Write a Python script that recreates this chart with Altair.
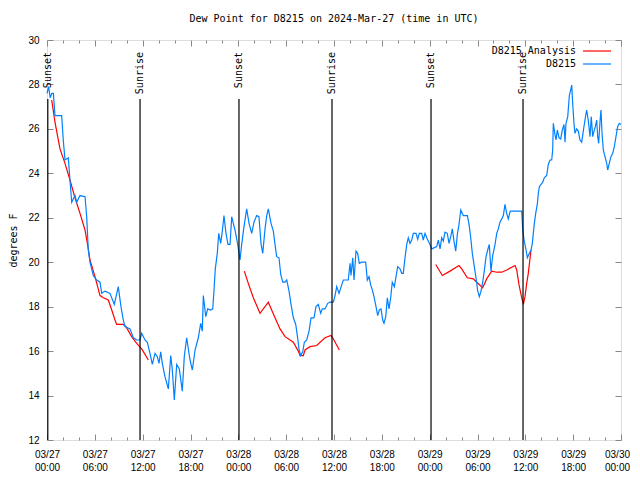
import altair as alt
import pandas as pd

# ---------------- data ----------------
# D8215 observations: hours after 2024-03-27 00:00 UTC, dew point (F)
d8215_hours = [
    0.00, 0.20, 0.40, 0.60, 0.80, 1.00, 1.84, 2.04, 2.26, 2.67,
    2.88, 3.10, 3.51, 3.73, 4.14, 4.77, 4.98, 5.18, 5.39, 5.81,
    6.23, 6.65, 6.86, 7.28, 7.90, 8.44, 8.66, 8.94, 9.28, 9.57,
    9.78, 10.41, 10.83, 11.25, 11.67, 11.88, 12.29, 12.58, 12.92, 13.21,
    13.55, 13.84, 14.05, 14.26, 14.46, 14.80, 15.22, 15.52, 15.72, 15.97,
    16.27, 16.60, 16.97, 17.22, 17.52, 17.94, 18.23, 18.57, 18.98, 19.28,
    19.48, 19.61, 19.91, 20.16, 20.53, 20.79, 20.95, 21.11, 21.36, 21.54,
    21.79, 21.99, 22.20, 22.45, 22.70, 22.96, 23.17, 23.37, 23.58, 23.92,
    24.21, 24.42, 24.71, 25.05, 25.34, 25.68, 25.96, 26.30, 26.59, 26.84,
    27.06, 27.35, 27.56, 27.76, 28.10, 28.39, 28.60, 28.81, 29.10, 29.32,
    29.57, 29.86, 30.07, 30.36, 30.61, 30.90, 31.20, 31.40, 31.61, 31.82,
    32.08, 32.28, 32.58, 32.87, 33.12, 33.49, 33.74, 34.03, 34.33, 34.53,
    34.87, 35.21, 35.50, 35.91, 36.13, 36.34, 36.63, 36.97, 37.17, 37.79,
    38.01, 38.13, 38.35, 38.51, 38.76, 38.97, 39.17, 39.47, 39.97, 40.18,
    40.39, 40.60, 40.85, 41.05, 41.27, 41.48, 41.68, 41.90, 42.11, 42.27,
    42.49, 42.69, 42.90, 43.11, 43.31, 43.57, 43.78, 43.99, 44.28, 44.49,
    44.69, 44.91, 45.12, 45.32, 45.53, 45.75, 45.95, 46.29, 46.50, 46.70,
    47.00, 47.20, 47.42, 47.70, 48.04, 48.26, 48.88, 49.09, 49.30, 49.51,
    49.71, 49.92, 50.21, 50.43, 50.64, 50.84, 51.05, 51.27, 51.47, 51.68,
    51.90, 52.22, 52.73, 52.94, 53.15, 53.35, 53.60, 53.81, 54.03, 54.23,
    54.44, 54.65, 54.85, 55.07, 55.28, 55.48, 55.69, 55.91, 56.20, 56.41,
    56.61, 56.82, 57.04, 57.24, 57.45, 57.66, 57.86, 58.11, 59.55, 59.67,
    59.84, 60.09, 60.25, 60.50, 60.71, 60.88, 61.00, 61.13, 61.30, 61.50,
    61.63, 61.76, 61.97, 62.18, 62.38, 62.68, 62.88, 63.10, 63.31, 63.43,
    63.51, 63.69, 63.85, 64.01, 64.23, 64.44, 64.64, 64.85, 64.98, 65.10,
    65.32, 65.52, 65.69, 65.82, 65.94, 66.11, 66.23, 66.44, 66.64, 66.86,
    67.07, 67.27, 67.48, 67.69, 67.89, 68.11, 68.27, 68.45, 68.61, 68.78,
    68.95, 69.08, 69.20, 69.37, 69.49, 69.62, 69.78, 69.99, 70.21, 70.33,
    70.53, 70.74, 70.96, 71.16, 71.37, 71.58, 71.78, 72.00,
]
d8215_dew = [
    27.6, 27.9, 27.4, 27.6, 27.6, 26.6, 26.6, 25.5, 24.6, 24.7,
    23.7, 22.7, 23.0, 22.7, 23.0, 22.95, 22.05, 20.55, 20.0, 19.4,
    19.2, 19.1, 18.6, 18.7, 18.6, 18.1, 18.45, 18.9, 18.0, 17.4,
    17.1, 17.0, 16.6, 16.5, 16.5, 16.8, 16.5, 16.4, 15.9, 15.4,
    15.9, 15.75, 15.45, 15.97, 15.45, 14.85, 14.3, 15.8, 15.15, 13.8,
    15.4, 15.2, 14.2, 15.75, 16.6, 15.6, 15.15, 16.05, 16.6, 17.25,
    16.9, 18.5, 17.55, 17.9, 17.85, 17.9, 18.75, 19.7, 20.4, 21.3,
    20.85, 21.4, 22.1, 21.3, 20.8, 20.8, 22.05, 21.75, 21.45, 20.8,
    20.1, 20.8, 21.6, 22.4, 21.75, 21.3, 21.8, 22.1, 22.05, 20.85,
    20.4, 21.5, 22.1, 22.4, 21.75, 21.4, 20.8, 20.25, 20.2, 19.45,
    19.1, 19.1, 19.2, 18.7, 18.1, 17.5, 17.2, 16.7, 16.1, 15.8,
    15.97, 16.4, 16.5, 16.9, 17.5, 17.5, 18.0, 18.1, 17.7, 17.9,
    17.9, 18.15, 18.2, 18.2, 18.5, 18.9, 18.6, 18.98, 19.2, 19.2,
    19.95, 19.4, 20.2, 19.2, 20.5, 20.4, 19.95, 20.0, 20.0, 19.2,
    19.35, 18.98, 18.7, 18.4, 18.0, 17.6, 17.85, 17.9, 17.4, 17.25,
    17.55, 18.4, 17.9, 18.4, 19.1, 18.9, 19.35, 19.8, 19.7, 19.5,
    19.5, 20.2, 20.8, 21.1, 20.85, 21.0, 21.3, 21.3, 21.03, 21.3,
    21.3, 21.0, 21.3, 21.05, 20.8, 20.6, 20.7, 21.0, 20.6, 21.1,
    20.95, 21.35, 21.3, 20.85, 21.15, 21.5, 20.95, 20.5, 21.25, 21.7,
    22.35, 22.1, 22.1, 21.7, 21.1, 20.4, 19.8, 19.3, 18.7, 18.45,
    18.7, 19.1, 19.6, 20.25, 20.55, 20.8, 19.6, 20.3, 20.8, 21.3,
    21.5, 21.8, 21.95, 22.1, 22.6, 22.2, 21.95, 22.3, 22.3, 21.5,
    21.0, 20.55, 20.2, 20.4, 20.55, 20.85, 21.3, 21.75, 22.2, 22.6,
    23.1, 23.4, 23.5, 23.6, 23.8, 23.9, 24.4, 24.6, 24.6, 25.05,
    26.25, 25.8, 25.5, 25.95, 25.6, 25.55, 25.95, 26.2, 25.4, 26.25,
    26.55, 27.5, 27.75, 27.97, 27.15, 26.2, 25.8, 26.0, 25.9, 25.5,
    25.4, 25.9, 26.4, 26.85, 26.4, 25.65, 26.55, 25.65, 25.9, 26.1,
    26.4, 25.65, 25.35, 26.35, 26.85, 25.8, 25.05, 24.75, 24.45, 24.15,
    24.45, 24.75, 24.9, 25.2, 25.65, 26.1, 26.25, 26.2,
]

# D8215 Analysis: three separate runs
analysis_run1_hours = [0.59, 1.00, 1.63, 2.26, 2.88, 3.51, 4.14, 4.77, 5.18, 5.39, 6.02, 6.65,
                       7.07, 7.69, 8.12, 8.53, 8.74, 9.57, 9.91, 10.62, 11.25, 11.88, 12.71]
analysis_run1_dew = [27.3, 26.3, 25.1, 24.45, 23.7, 22.9, 22.2, 21.45, 20.6, 20.1, 19.35, 18.5,
                     18.4, 18.3, 17.85, 17.4, 17.2, 17.2, 17.1, 16.65, 16.35, 16.1, 15.6]
analysis_run2_hours = [24.75, 25.25, 25.88, 26.72, 27.76, 28.60, 29.23, 29.86, 30.90, 31.52,
                       31.74, 32.15, 32.36, 32.99, 33.83, 34.87, 35.62, 35.84, 36.67]
analysis_run2_dew = [19.6, 19.05, 18.4, 17.7, 18.2, 17.5, 17.0, 16.65, 16.4, 16.0,
                     15.8, 15.8, 16.05, 16.2, 16.25, 16.6, 16.7, 16.6, 16.05]
analysis_run3_hours = [48.76, 49.59, 50.55, 51.68, 52.02, 52.72, 53.48, 53.90, 54.65, 55.15,
                       55.78, 56.41, 57.04, 57.66, 58.71, 58.92, 59.21, 59.55, 59.75, 59.96,
                       60.17, 60.37, 60.71]
analysis_run3_dew = [19.9, 19.4, 19.6, 19.85, 19.7, 19.3, 19.25, 19.1, 18.85, 19.25,
                     19.6, 19.55, 19.55, 19.65, 19.85, 19.65, 18.98, 18.4, 18.1, 18.45,
                     19.05, 19.5, 20.55]

event_names = ["Sunset", "Sunrise", "Sunset", "Sunrise", "Sunset", "Sunrise"]
event_hours = [0.10, 11.67, 24.08, 35.75, 48.17, 59.71]

series_names = ["D8215 Analysis", "D8215"]
series_colors = ["#ff0000", "#0080ff"]

y_ticks = [12, 14, 16, 18, 20, 22, 24, 26, 28, 30]
major_tick_hours = list(range(0, 73, 6))
minor_tick_hours = [h for h in range(0, 73, 2) if h % 6]

assert len(d8215_hours) == len(d8215_dew)

# ---------------- build tables ----------------
START = pd.Timestamp("2024-03-27T00:00:00")


def stamps(hours):
    return [(START + pd.Timedelta(hours=h)).strftime("%Y-%m-%dT%H:%M:%SZ") for h in hours]


def dt(h):
    return alt.DateTime(year=2024, month=3, date=27 + h // 24, hours=h % 24, utc=True)


obs = pd.DataFrame({"time": stamps(d8215_hours), "dew": d8215_dew, "series": series_names[1]})
runs = [(analysis_run1_hours, analysis_run1_dew), (analysis_run2_hours, analysis_run2_dew),
        (analysis_run3_hours, analysis_run3_dew)]
ana = pd.concat([
    pd.DataFrame({"time": stamps(h), "dew": d, "series": series_names[0], "run": i})
    for i, (h, d) in enumerate(runs)
], ignore_index=True)
ev = pd.DataFrame({"time": stamps(event_hours), "name": event_names})

FONT = "DejaVu Sans Mono"
W, H = 574, 400

x_scale = alt.Scale(type="utc", nice=False, domain=[dt(0), dt(72)])
y_scale = alt.Scale(domain=[12, 30], nice=False, zero=False)
color_scale = alt.Scale(domain=series_names, range=series_colors)

major_vals = [dt(h) for h in major_tick_hours]
minor_vals = [dt(h) for h in minor_tick_hours]
LABEL_EXPR = "[utcFormat(datum.value, '%m/%d'), utcFormat(datum.value, '%H:%M')]"

# axes with labels only (outside)
x_label_axis = alt.Axis(orient="bottom", title=None, values=major_vals[:-1],
                        ticks=False, domain=False, labelOverlap=False, labelFlush=False,
                        labelPadding=9, labelLineHeight=13, labelExpr=LABEL_EXPR)
x_last_label_axis = alt.Axis(orient="bottom", title=None, values=major_vals[-1:],
                             ticks=False, domain=False, labelOverlap=False, labelFlush=False,
                             labelPadding=9, labelLineHeight=13, labelExpr=LABEL_EXPR,
                             labelOffset={"expr": "-4"})
y_label_axis = alt.Axis(orient="left", title="degrees F", values=y_ticks, ticks=False, domain=False,
                        labelPadding=8, titlePadding=9, titleFontWeight="normal",
                        titleFont=FONT, titleFontSize=10, titleColor="black")


def tick_axis(orient, offset, values, size):
    return alt.Axis(orient=orient, offset=offset, title=None, labels=False, domain=False,
                    values=values, tickSize=size, grid=False)


# legend: text on the left, a long line sample on the right (gnuplot style)
legend = alt.Legend(orient="none", legendX=544, legendY=5, title=None,
                    direction="vertical", symbolType="M-2.8,0H2.8", symbolSize=100,
                    symbolStrokeWidth=1.2, padding=0,
                    labelAlign="right", labelOffset={"expr": "-27"}, labelFont=FONT,
                    labelFontSize=10, labelColor="black")

obs_line = alt.Chart(obs).mark_line(strokeWidth=1.2).encode(
    x=alt.X("time:T", scale=x_scale, axis=x_label_axis),
    y=alt.Y("dew:Q", scale=y_scale, axis=y_label_axis),
    color=alt.Color("series:N", scale=color_scale, legend=legend),
)

ana_line = alt.Chart(ana).mark_line(strokeWidth=1.2).encode(
    x=alt.X("time:T", axis=tick_axis("top", -H, major_vals, 6)),
    y=alt.Y("dew:Q", axis=tick_axis("right", -W, y_ticks, 6)),
    color=alt.Color("series:N", scale=color_scale),
    detail="run:N",
)

# invisible carriers for the remaining inward tick axes
carrier_a = alt.Chart(obs).mark_line(opacity=0).encode(
    x=alt.X("time:T", axis=tick_axis("top", -H, minor_vals, 3)),
    y=alt.Y("dew:Q", axis=tick_axis("left", -W, y_ticks, 6)),
)
carrier_b = alt.Chart(obs).mark_line(opacity=0).encode(
    x=alt.X("time:T", axis=tick_axis("bottom", -H, minor_vals, 3)),
    y=alt.Y("dew:Q", axis=None),
)

ev_rules = alt.Chart(ev).mark_rule(color="black", strokeWidth=1.2).encode(
    x=alt.X("time:T", axis=tick_axis("bottom", -H, major_vals, 6)),
    y=alt.value(59),
    y2=alt.value(H),
)

ev_text = alt.Chart(ev).mark_text(angle=270, align="right", baseline="middle", font=FONT,
                                  fontSize=10, color="black").encode(
    x=alt.X("time:T", axis=x_last_label_axis),
    y=alt.value(12),
    text="name:N",
)

chart = alt.layer(ana_line, obs_line, carrier_a, carrier_b, ev_rules, ev_text).resolve_axis(
    x="independent", y="independent"
).properties(
    width=W, height=H,
    title=alt.Title("Dew Point for D8215 on 2024-Mar-27 (time in UTC)", font=FONT, fontSize=10,
                    fontWeight="normal", color="black", anchor="middle", offset=11),
    autosize=alt.AutoSizeParams(type="none"),
    padding={"left": 39, "top": 32, "right": 11, "bottom": 32},
).configure_axis(
    labelFont=FONT, labelFontSize=10, labelColor="black", titleFont=FONT, titleFontSize=10,
    titleFontWeight="normal", titleColor="black", grid=False, tickColor="black", tickWidth=1,
).configure_view(stroke="black", strokeWidth=1.2).configure(background="white")

chart.save("out.html", embed_options={"renderer": "svg", "actions": False})
